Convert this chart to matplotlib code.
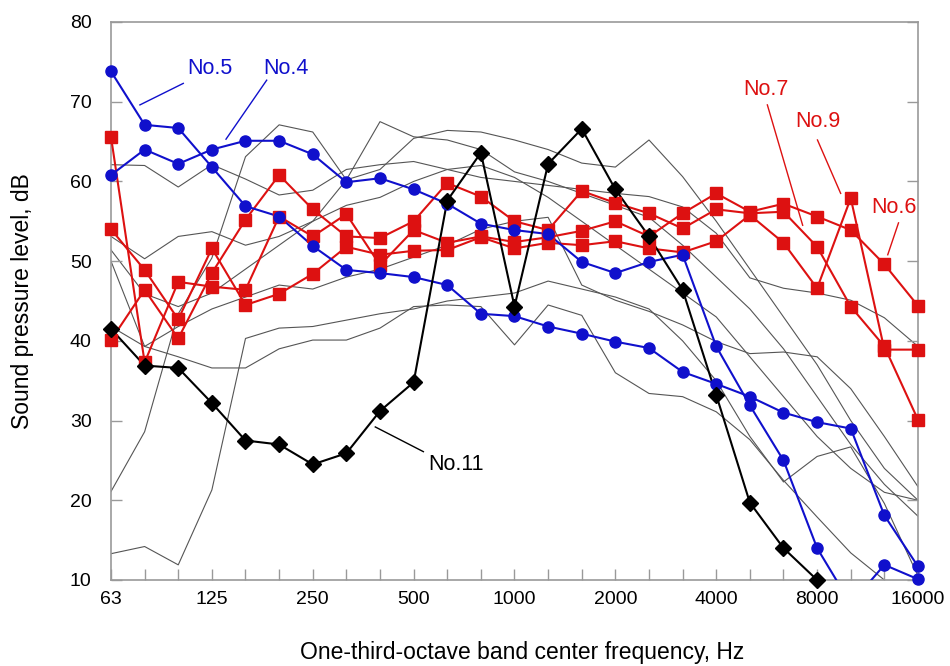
import numpy as np
import matplotlib.pyplot as plt

plt.rcParams['font.family'] = ['Liberation Sans', 'DejaVu Sans']

bands = ["63", "80", "100", "125", "160", "200", "250", "315", "400", "500",
         "630", "800", "1000", "1250", "1600", "2000", "2500", "3150", "4000",
         "5000", "6300", "8000", "10000", "12500", "16000"]
tick_labels = ["63", "125", "250", "500", "1000", "2000", "4000", "8000", "16000"]

no4 = [60.8, 64.0, 62.2, 64.0, 65.1, 65.1, 63.4, 59.9, 60.4, 59.0, 57.2, 54.7, 53.9,
       53.4, 49.9, 48.5, 49.9, 50.8, 39.3, 31.9, 25.0, 14.0, 7.0, 11.9, 10.1]
no5 = [73.8, 67.1, 66.7, 61.8, 56.9, 55.6, 51.9, 48.9, 48.5, 48.0, 47.0, 43.4, 43.1,
       41.8, 40.9, 39.9, 39.1, 36.1, 34.6, 33.0, 31.0, 29.8, 29.0, 18.1, 11.7]
no11 = [41.5, 36.9, 36.6, 32.2, 27.5, 27.0, 24.5, 25.9, 31.2, 34.8, 57.6, 63.6, 44.3,
        62.2, 66.6, 59.0, 53.1, 46.4, 33.2, 19.7, 14.0, 10.0, np.nan, np.nan, np.nan]
no6 = [65.6, 37.3, 47.4, 46.8, 46.4, 55.6, 53.1, 55.9, 49.5, 53.9, 52.3, 53.1, 52.4,
       53.0, 53.8, 55.0, 53.1, 56.0, 58.5, 56.2, 57.2, 55.6, 53.9, 49.6, 44.4]
no7 = [40.1, 46.4, 40.3, 48.5, 55.2, 60.8, 56.5, 53.1, 52.9, 55.0, 59.8, 58.1, 55.0,
       53.9, 58.8, 57.3, 56.0, 54.1, 56.5, 56.0, 56.2, 51.8, 44.3, 39.3, 30.1]
no9 = [54.0, 48.9, 42.7, 51.6, 44.5, 45.9, 48.4, 51.8, 50.8, 51.3, 51.4, 53.0, 51.6,
       52.3, 52.0, 52.5, 51.6, 51.1, 52.5, 55.8, 52.3, 46.6, 57.9, 38.9, 38.9]

# other sources (thin grey)
others = [
    [62.1, 62.0, 59.3, 62.1, 60.3, 58.3, 58.9, 61.5, 62.1, 62.5, 61.5, 60.5, 60.0,
     59.5, 59.0, 58.5, 58.1, 56.8, 53.5, 47.9, 46.6, 46.0, 45.1, 42.9, 39.3],
    [21.1, 28.6, 43.4, 50.4, 63.1, 67.1, 66.2, 60.2, 61.5, 65.4, 66.4, 66.2, 65.2,
     64.0, 62.3, 61.8, 65.2, 60.6, 55.0, 49.0, 43.0, 37.0, 30.0, 24.0, 20.0],
    [13.3, 14.2, 11.9, 21.3, 40.3, 41.6, 41.8, 42.6, 43.4, 44.0, 45.0, 45.5, 46.0,
     47.5, 46.5, 45.5, 44.0, 40.0, 35.0, 28.0, 22.3, 25.5, 26.7, 19.6, 10.5],
    [41.8, 39.3, 38.0, 36.6, 36.6, 39.0, 40.1, 40.1, 41.6, 44.3, 44.5, 44.3, 39.5,
     44.5, 43.2, 36.0, 33.4, 33.0, 31.1, 27.6, 22.5, 17.9, 13.4, 10.0, 6.0],
    [53.1, 50.3, 53.1, 53.7, 52.0, 53.1, 55.0, 60.2, 67.5, 65.6, 65.2, 64.0, 61.2,
     60.0, 58.5, 57.0, 55.5, 52.0, 48.0, 44.0, 39.0, 33.0, 27.0, 22.0, 18.0],
    [51.4, 45.9, 44.3, 46.0, 49.0, 52.0, 55.0, 57.0, 58.0, 60.0, 61.5, 62.0, 60.5,
     58.0, 55.0, 52.0, 49.0, 46.0, 43.0, 38.0, 33.0, 28.0, 24.0, 21.0, 20.0],
    [50.0, 39.3, 41.8, 44.0, 45.5, 47.0, 46.5, 48.0, 49.0, 50.5, 52.0, 54.0, 55.0,
     55.5, 47.0, 45.1, 43.7, 42.0, 39.9, 38.4, 38.6, 38.0, 34.0, 28.0, 21.7],
]

BLUE = "#1010CC"
RED = "#DD1111"
x = np.arange(len(bands))

fig = plt.figure(figsize=(9.5, 6.66), dpi=100)
ax = fig.add_axes([111 / 950, 1 - 580 / 666, (918 - 111) / 950, (580 - 22) / 666])

for g in others:
    ax.plot(x, g, color="#555555", lw=0.8, zorder=1)


def series(vals, color, marker, ms):
    vals = np.array(vals, dtype=float)
    ax.plot(x, vals, color=color, lw=1.5, zorder=3)
    ok = vals >= 10
    ax.plot(x[ok], vals[ok], ls="none", marker=marker, ms=ms, color=color,
            mec=color, zorder=4, clip_on=False)


for s in (no6, no7, no9):
    series(s, RED, "s", 8)
for s in (no4, no5):
    series(s, BLUE, "o", 8)
series(no11, "black", "D", 8.5)

ax.set_xlim(0, 24)
ax.set_ylim(10, 80)
ax.set_xticks(x, minor=True)
ax.set_xticks([bands.index(t) for t in tick_labels])
ax.set_xticklabels(tick_labels)
ax.set_yticks(range(10, 81, 10))
ax.tick_params(axis="both", which="both", direction="in", colors="#999999",
               labelcolor="black", labelsize=14, length=8, width=1)
ax.tick_params(axis="x", which="minor", length=8)
ax.tick_params(axis="x", pad=8)
ax.tick_params(axis="y", right=True, pad=14)
for sp in ax.spines.values():
    sp.set_color("#999999")
    sp.set_linewidth(1.2)

ax.set_xlabel("One-third-octave band center frequency, Hz", fontsize=16.5)
ax.set_ylabel("Sound pressure level, dB", fontsize=16.5)
ax.xaxis.set_label_coords((522 - 111) / 807, -(652 - 580) / 558, transform=ax.transAxes)
ax.yaxis.set_label_coords(-(111 - 22) / 807, 0.5, transform=ax.transAxes)
ax.xaxis.label.set_va("center")
ax.yaxis.label.set_va("center")


def label(text, color, txy, a0, a1):
    ax.text(*txy, text, color=color, fontsize=15.5, ha="center", va="center")
    ax.plot([a0[0], a1[0]], [a0[1], a1[1]], color=color, lw=1, zorder=2)


# label positions in data units (x index, dB)
label("No.5", BLUE, (2.95, 74.2), (2.15, 72.3), (0.86, 69.6))
label("No.4", BLUE, (5.21, 74.2), (4.63, 72.7), (3.42, 65.3))
label("No.7", RED, (19.49, 71.5), (19.52, 69.6), (20.57, 54.5))
label("No.9", RED, (21.01, 67.5), (21.01, 65.2), (21.7, 58.5))
label("No.6", RED, (23.27, 56.7), (23.42, 54.8), (23.1, 50.8))
label("No.11", "black", (10.27, 24.5), (9.29, 26.1), (7.86, 29.2))

fig.savefig("out.png", dpi=100)
